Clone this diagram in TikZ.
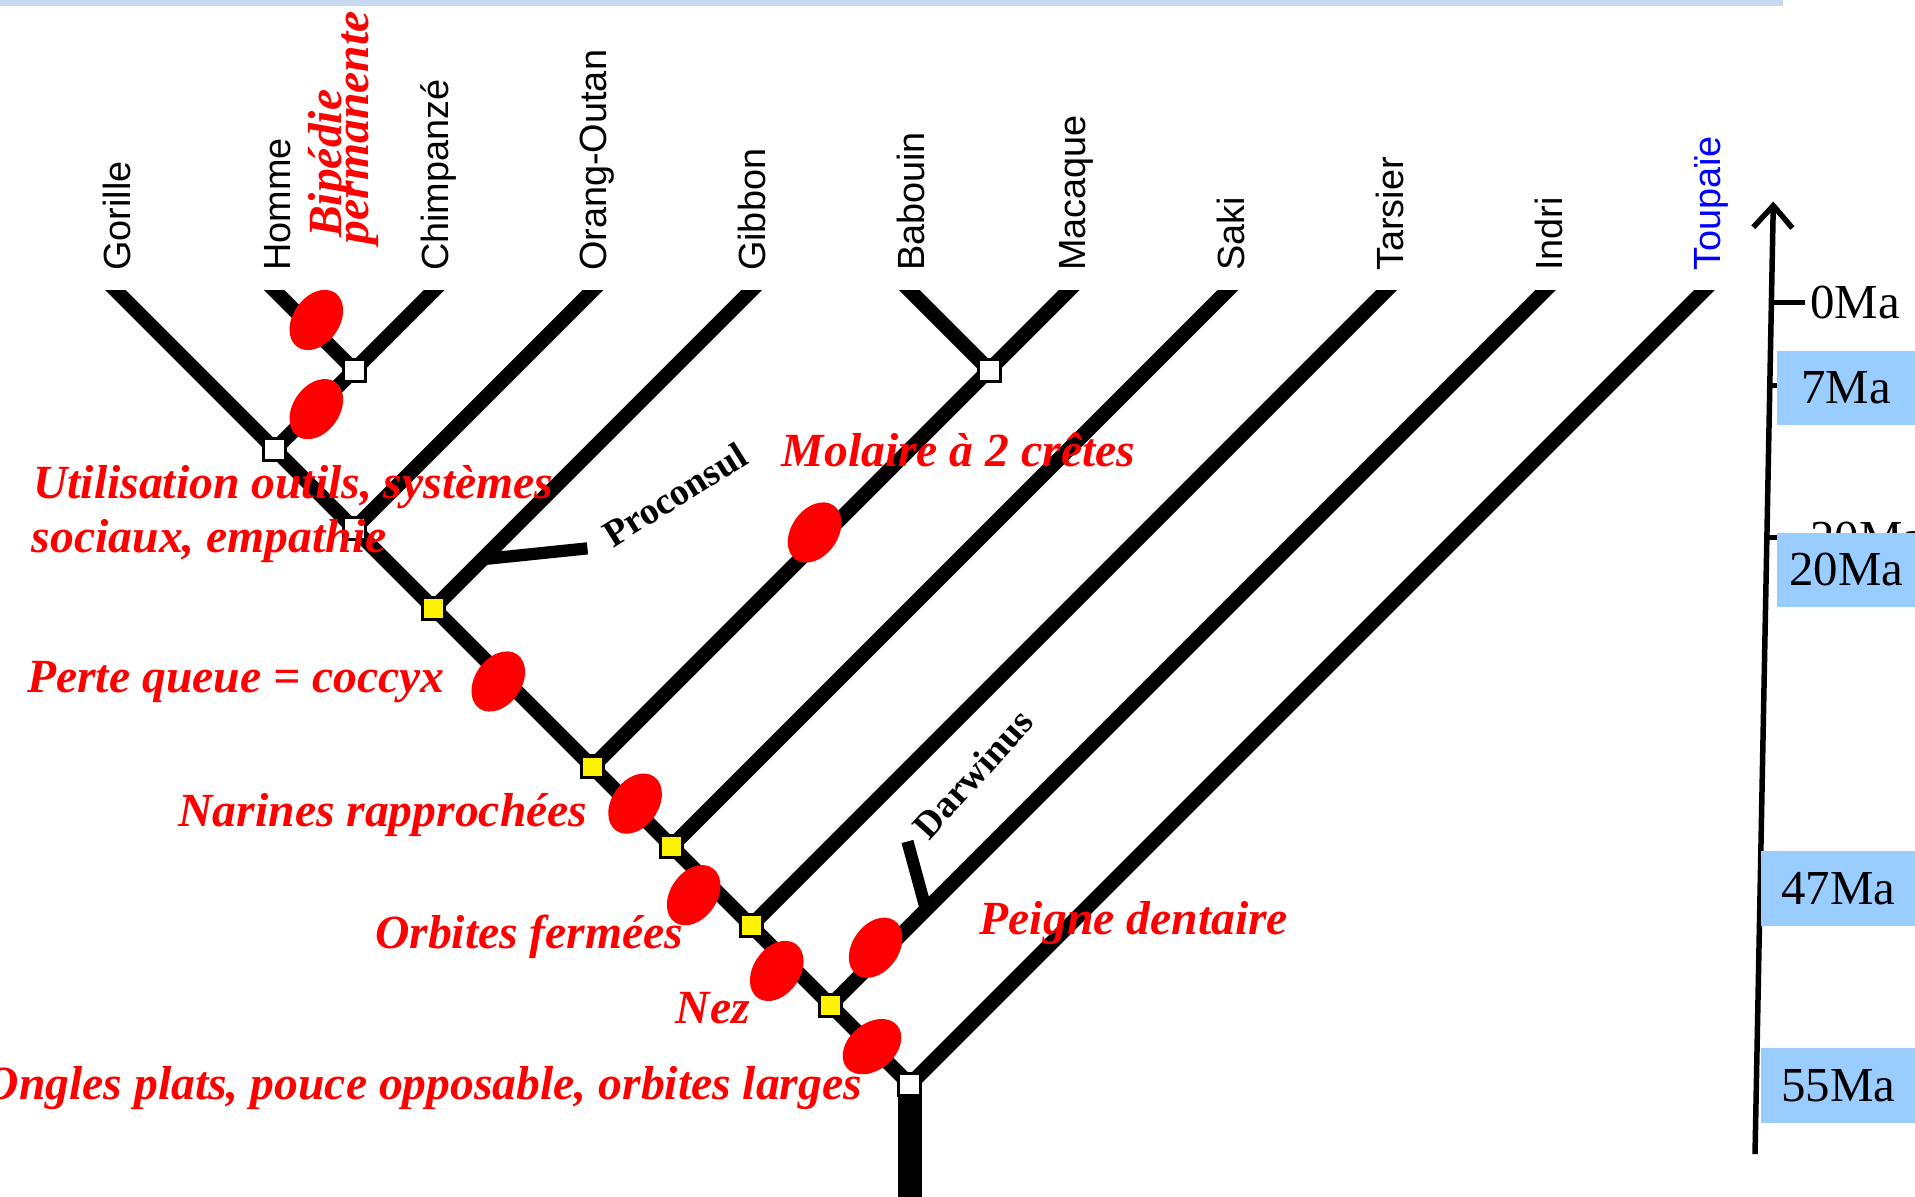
\documentclass[tikz,border=0pt]{standalone}
\usepackage{fontspec}
\setmainfont{Liberation Serif}
\setsansfont{Liberation Sans}
\usepackage{xcolor}
\usetikzlibrary{shapes.geometric,arrows.meta}
\definecolor{bandblue}{HTML}{C6D9F1}
\definecolor{agefill}{HTML}{99CCFF}

\begin{document}
\begin{tikzpicture}[x=1pt, y=1pt,
    branch/.style={line width=12pt},
    trunk/.style={line width=20pt},
    leaf/.style={rotate=90, anchor=base west, inner sep=0pt, font=\sffamily\fontsize{31}{31}\selectfont},
    clade/.style={rectangle, draw, line width=2.5pt, minimum size=18pt, inner sep=0pt},
    trait/.style={ellipse, fill=red, minimum width=38pt, minimum height=54pt, inner sep=0pt, rotate=-35},
    traitlabel/.style={anchor=base west, red, inner sep=0pt, font=\bfseries\itshape\fontsize{39}{44}\selectfont},
    fossil/.style={anchor=base west, inner sep=0pt, font=\bfseries\fontsize{31}{31}\selectfont},
    marker/.style={line width=10pt},
    age/.style={anchor=north west, fill=agefill, minimum height=61pt, inner sep=0pt, font=\fontsize{40}{40}\selectfont},
    arrow/.style={-{Straight Barb[length=18pt,width=32pt]}, line width=4.5pt}
]
\useasboundingbox (0,0) rectangle (1568,980);
% Top band
\fill[bandblue] (0,975) rectangle (1460,980);
% Leaves
\node[leaf] (gorille) at (107,758) {Gorille};
\node[leaf] (homme) at (238,758) {Homme};
\node[leaf] (chimp) at (367,758) {Chimpanzé};
\node[leaf] (orang) at (497,758) {Orang-Outan};
\node[leaf] (gibbon) at (627,758) {Gibbon};
\node[leaf] (babouin) at (757,758) {Babouin};
\node[leaf] (macaque) at (889,758) {Macaque};
\node[leaf] (saki) at (1019,758) {Saki};
\node[leaf] (tarsier) at (1149,758) {Tarsier};
\node[leaf] (indri) at (1279,758) {Indri};
\node[leaf, blue] (toupaie) at (1409,758) {Toupaïe};
% Branch tops
\coordinate (gorTop) at (95,742);
\coordinate (homTop) at (225,742);
\coordinate (chiTop) at (355,742);
\coordinate (oraTop) at (485,742);
\coordinate (gibTop) at (615,742);
\coordinate (babTop) at (745,742);
\coordinate (macTop) at (875,742);
\coordinate (sakTop) at (1005,742);
\coordinate (tarTop) at (1135,742);
\coordinate (indTop) at (1265,742);
\coordinate (touTop) at (1395,742);
% Clades
\coordinate (nHC) at (290,677);
\coordinate (nGo) at (225,612);
\coordinate (nOr) at (290,547);
\coordinate (nGi) at (355,482);
\coordinate (nBM) at (810,677);
\coordinate (nBa) at (485,352);
\coordinate (nSa) at (550,287);
\coordinate (nTa) at (615,222);
\coordinate (nIn) at (680,157);
\coordinate (root) at (745,92);
\coordinate (trunkEnd) at (745,0);
% Branches
\begin{scope}
\clip (0,0) rectangle (1568,742);
\draw[branch, shorten <=-14pt] (gorTop) -- (root);
\draw[branch, shorten <=-14pt] (homTop) -- (nHC);
\draw[branch, shorten <=-14pt] (chiTop) -- (nGo);
\draw[branch, shorten <=-14pt] (oraTop) -- (nOr);
\draw[branch, shorten <=-14pt] (gibTop) -- (nGi);
\draw[branch, shorten <=-14pt] (babTop) -- (nBM);
\draw[branch, shorten <=-14pt] (macTop) -- (nBa);
\draw[branch, shorten <=-14pt] (sakTop) -- (nSa);
\draw[branch, shorten <=-14pt] (tarTop) -- (nTa);
\draw[branch, shorten <=-14pt] (indTop) -- (nIn);
\draw[branch, shorten <=-14pt] (touTop) -- (root);
\end{scope}
\draw[trunk] (root) -- (trunkEnd);
% Clade squares
\node[clade, fill=white] (sqHC) at (nHC) {};
\node[clade, fill=white] (sqGo) at (nGo) {};
\node[clade, fill=white] (sqOr) at (nOr) {};
\node[clade, fill=yellow] (sqGi) at (nGi) {};
\node[clade, fill=white] (sqBM) at (nBM) {};
\node[clade, fill=yellow] (sqBa) at (nBa) {};
\node[clade, fill=yellow] (sqSa) at (nSa) {};
\node[clade, fill=yellow] (sqTa) at (nTa) {};
\node[clade, fill=yellow] (sqIn) at (nIn) {};
\node[clade, fill=white] (sqRoot) at (root) {};
% Traits
\node[trait] (tBip) at (259,718) {};
\node[trait] (tOutil) at (259,645) {};
\node[trait] (tMol) at (667,544) {};
\node[trait] (tQueue) at (408,422) {};
\node[trait] (tNar) at (520,322) {};
\node[trait] (tOrb) at (568,247) {};
\node[trait] (tNez) at (636,185) {};
\node[trait] (tPeigne) at (717,204) {};
\node[trait, rotate=-15] (tOngles) at (714,123) {};
% Trait labels
\node[traitlabel, rotate=90] (bip) at (280,785) {Bipédie};
\node[traitlabel, rotate=90] (perm) at (302,780) {permanente};
\node[traitlabel] (outils) at (27,572) {Utilisation outils, systèmes};
\node[traitlabel] (sociaux) at (26,528) {sociaux, empathie};
\node[traitlabel] (molaire) at (640,598) {Molaire à 2 crêtes};
\node[traitlabel] (queue) at (22,413) {Perte queue = coccyx};
\node[traitlabel] (narines) at (146,303) {Narines rapprochées};
\node[traitlabel] (orbites) at (307,203) {Orbites fermées};
\node[traitlabel] (nez) at (553,142) {Nez};
\node[traitlabel] (peigne) at (802,215) {Peigne dentaire};
\node[traitlabel, anchor=base east] (ongles) at (706,80) {Ongles plats, pouce opposable, orbites larges};
% Fossils
\coordinate (proFoot) at (394,522);
\coordinate (proTip) at (481,531);
\draw[marker] (proFoot) -- (proTip);
\node[fossil, rotate=32] (proconsul) at (502,531) {Proconsul};
\coordinate (darFoot) at (758,236);
\coordinate (darTip) at (743,291);
\draw[marker] (darFoot) -- (darTip);
\node[fossil, rotate=48] (darwinus) at (761,291) {Darwinus};
% Time axis
\coordinate (axBot) at (1437,35);
\coordinate (axTop) at (1452,815);
\draw[arrow] (axBot) -- (axTop);
\coordinate (t0) at (1450,732);
\coordinate (t0End) at (1478,732);
\draw[line width=4pt] (t0) -- (t0End);
\node[anchor=west, inner sep=0pt, font=\fontsize{40}{40}\selectfont] (ma0) at (1482,732) {0Ma};
\coordinate (t7) at (1449,664);
\coordinate (t7End) at (1458,664);
\draw[line width=4pt] (t7) -- (t7End);
\coordinate (t20) at (1447,540);
\coordinate (t20End) at (1458,540);
\draw[line width=4pt] (t20) -- (t20End);
\node[anchor=base west, inner sep=0pt, font=\fontsize{40}{40}\selectfont] (ma20old) at (1482,526) {20Ma};
% Ages
\node[age, minimum width=113pt] (ma7) at (1455,693) {7Ma};
\node[age, minimum width=113pt] (ma20) at (1455,544) {20Ma};
\node[age, minimum width=126pt] (ma47) at (1442,283) {47Ma};
\node[age, minimum width=126pt] (ma55) at (1442,122) {55Ma};
\end{tikzpicture}
\end{document}
